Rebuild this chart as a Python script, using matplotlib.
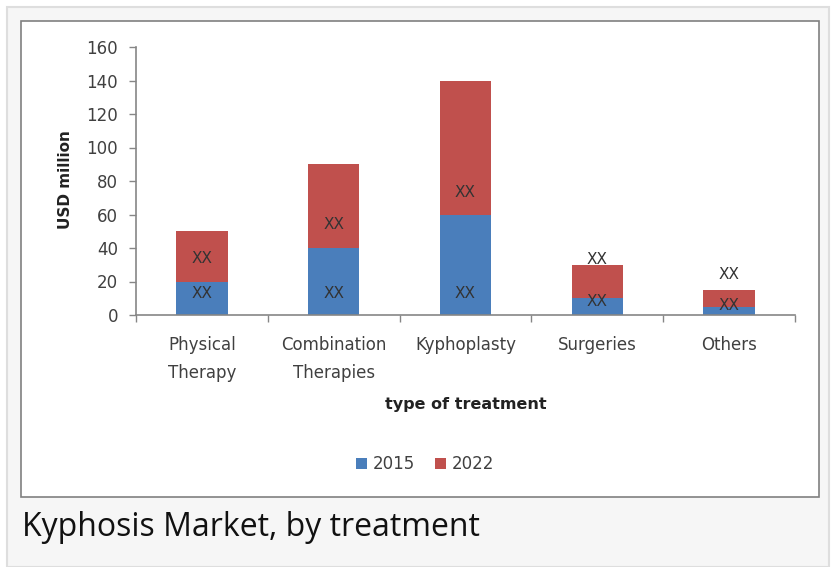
import matplotlib
matplotlib.use("Agg")
import matplotlib.pyplot as plt
from matplotlib.patches import Rectangle
import numpy as np

categories = ["Physical\nTherapy", "Combination\nTherapies", "Kyphoplasty", "Surgeries", "Others"]
values_2015 = [20, 40, 60, 10, 5]
values_2022 = [30, 50, 80, 20, 10]
label_text = "XX"
label_y_2015 = [13, 13, 13, 8, 5.5]
label_y_2022 = [34, 54, 73, 33, 24]
y_ticks = [0, 20, 40, 60, 80, 100, 120, 140, 160]
series_names = ["2015", "2022"]

W, H = 836, 567
fig = plt.figure(figsize=(W / 100, H / 100), dpi=100)
fig.patch.set_facecolor("white")

# outer frame
fig.patches.append(Rectangle((7 / W, 0), (829 - 7) / W, (H - 7) / H, transform=fig.transFigure,
                             facecolor="#f6f6f6", edgecolor="#dedede", linewidth=1.5, zorder=0))
# inner chart box
fig.patches.append(Rectangle((21 / W, 1 - 497 / H), (819 - 21) / W, (497 - 21) / H, transform=fig.transFigure,
                             facecolor="white", edgecolor="#808080", linewidth=1.2, zorder=1))

left, right, top, bottom = 136 / W, 795 / W, 1 - 47 / H, 1 - 315 / H
ax = fig.add_axes([left, bottom, right - left, top - bottom])
ax.set_zorder(5)
ax.set_facecolor("none")

x = np.arange(len(categories))
blue = "#4a7ebb"
red = "#c0504d"
bw = 0.39
ax.bar(x, values_2015, bw, color=blue, label=series_names[0], zorder=2)
ax.bar(x, values_2022, bw, bottom=values_2015, color=red, label=series_names[1], zorder=2)

for i in range(len(categories)):
    ax.text(x[i], label_y_2015[i], label_text, ha="center", va="center", fontsize=11,
            color="#333333", zorder=3)
    ax.text(x[i], label_y_2022[i], label_text, ha="center", va="center", fontsize=11,
            color="#333333", zorder=3)

ax.set_xlim(-0.5, len(categories) - 0.5)
ax.set_ylim(0, 160)
ax.set_yticks(y_ticks)
ax.tick_params(axis="y", direction="out", length=5, width=1, color="#868686",
               labelsize=12, labelcolor="#404040", pad=8)

ax.set_xticks(np.arange(len(categories) + 1) - 0.5)
ax.set_xticklabels([])
ax.set_xticks(x, minor=True)
ax.set_xticklabels(categories, minor=True, fontsize=12, color="#404040", linespacing=1.75)
ax.tick_params(axis="x", which="major", direction="out", length=5, width=1, color="#868686")
ax.tick_params(axis="x", which="minor", length=0, pad=15)

for s in ["top", "right"]:
    ax.spines[s].set_visible(False)
for s in ["left", "bottom"]:
    ax.spines[s].set_color("#868686")
    ax.spines[s].set_linewidth(1.2)

fig.text(65 / W, 1 - 180 / H, "USD million", rotation=90, ha="center", va="center",
         fontsize=11, fontweight="bold", color="#222222", zorder=6)
fig.text(466 / W, 1 - 405 / H, "type of treatment", ha="center", va="center",
         fontsize=11.5, fontweight="bold", color="#222222", zorder=6)

leg = fig.legend(loc="center", bbox_to_anchor=(425 / W, 1 - 464 / H), ncol=2, frameon=False,
                 fontsize=12, handlelength=0.65, handleheight=0.65, handletextpad=0.35,
                 columnspacing=1.2)
leg.set_zorder(6)
for t in leg.get_texts():
    t.set_color("#404040")

fig.text(22 / W, 1 - 527 / H, "Kyphosis Market, by treatment", ha="left", va="center",
         fontsize=23, family="Open Sans", color="#111111", zorder=6)

fig.savefig("out.png", dpi=100)
